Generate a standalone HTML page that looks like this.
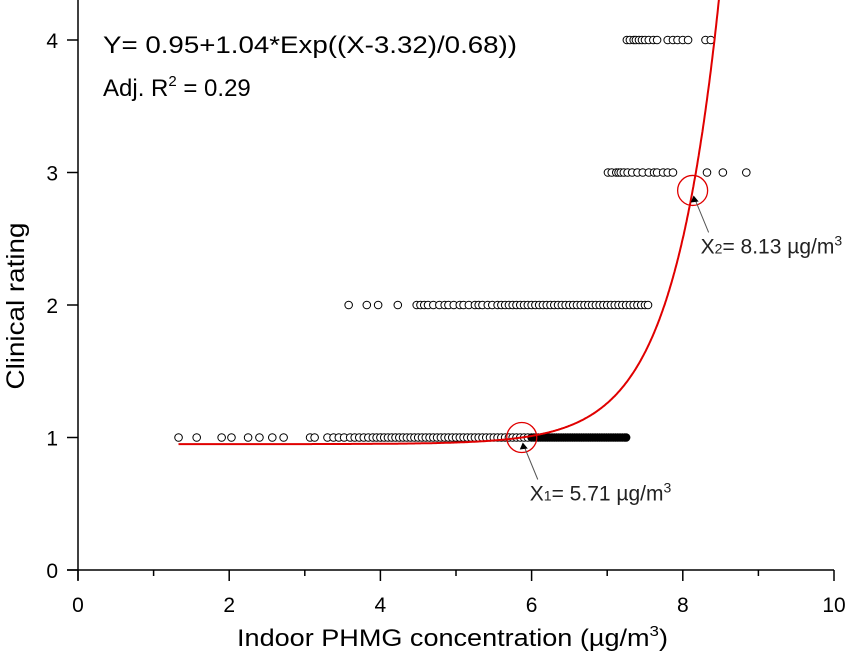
<!DOCTYPE html>
<html><head><meta charset="utf-8">
<style>
html,body{margin:0;padding:0;background:#fff;}
svg{display:block;font-family:"Liberation Sans",sans-serif;}
</style></head>
<body>
<svg id="chart" width="850" height="657" viewBox="0 0 850 657" xmlns="http://www.w3.org/2000/svg">
<g id="marks"></g>
<g id="axes"></g>
<text x="103" y="53" font-size="24" textLength="414" lengthAdjust="spacingAndGlyphs">Y= 0.95+1.04*Exp((X-3.32)/0.68))</text>
<text x="103" y="96" font-size="24">Adj. R<tspan dy="-10" font-size="15">2</tspan><tspan dy="10"> = 0.29</tspan></text>
<text transform="translate(24,306) rotate(-90)" text-anchor="middle" font-size="25" textLength="167" lengthAdjust="spacingAndGlyphs">Clinical rating</text>
<text x="237" y="646" font-size="24" textLength="431" lengthAdjust="spacingAndGlyphs">Indoor PHMG concentration (µg/m<tspan dy="-10" font-size="15">3</tspan><tspan dy="10">)</tspan></text>
</svg>
<script>
const xTicks = [0,2,4,6,8,10];
const yTicks = [0,1,2,3,4];
const rating1 = [1.33,1.57,1.9,2.03,2.25,2.4,2.57,2.72,3.07,3.13,3.3,3.38,3.45,3.52,3.6,3.66,3.72,3.78,3.84,3.9,3.95,4.0,4.05,4.1,4.15,4.2,4.25,4.3,4.35,4.4,4.45,4.5,4.55,4.6,4.65,4.7,4.75,4.8,4.85,4.9,4.95,5.0,5.05,5.1,5.15,5.2,5.25,5.3,5.35,5.4,5.45,5.5,5.55,5.6,5.65,5.7,5.75,5.8,5.85,5.9,5.95,6.0,6.03,6.06,6.09,6.12,6.15,6.18,6.21,6.24,6.27,6.3,6.33,6.36,6.39,6.42,6.45,6.48,6.51,6.54,6.57,6.6,6.63,6.66,6.69,6.72,6.75,6.78,6.81,6.84,6.87,6.9,6.93,6.96,6.99,7.02,7.05,7.08,7.11,7.14,7.17,7.2,7.23,7.25];
const rating2 = [3.58,3.82,3.97,4.23,4.48,4.53,4.58,4.63,4.7,4.78,4.85,4.9,4.97,5.05,5.1,5.17,5.25,5.3,5.35,5.42,5.48,5.55,5.6,5.65,5.7,5.75,5.8,5.85,5.9,5.95,6.0,6.05,6.1,6.15,6.2,6.25,6.3,6.35,6.4,6.45,6.5,6.55,6.6,6.65,6.7,6.75,6.8,6.85,6.9,6.95,7.0,7.05,7.1,7.15,7.2,7.25,7.3,7.35,7.4,7.45,7.5,7.54];
const rating3 = [7.01,7.06,7.12,7.15,7.18,7.22,7.27,7.33,7.4,7.47,7.55,7.62,7.66,7.74,7.8,7.87,8.32,8.53,8.84];
const rating4 = [7.26,7.3,7.35,7.38,7.42,7.46,7.5,7.55,7.61,7.66,7.8,7.87,7.93,8.0,8.07,8.3,8.37];
const fitBase = 0.95, fitAmp = 0.05, fitX0 = 5.87, fitScale = 0.62, fitXStart = 1.33, fitXEnd = 8.7;
const markX = [5.87, 8.13];
const markLabels = ["5.71", "8.13"];

const NS = "http://www.w3.org/2000/svg";
const X0=78, XW=75.6, Y0=570, YH=132.5;
const sx = v => X0 + v*XW;
const sy = v => Y0 - v*YH;
const fit = x => fitBase + fitAmp*Math.exp((x-fitX0)/fitScale);
function mk(tag, attrs, parent){const e=document.createElementNS(NS,tag);for(const k in attrs)e.setAttribute(k,attrs[k]);parent.appendChild(e);return e;}
const gm = document.getElementById('marks'), ga = document.getElementById('axes');

[[rating1,1],[rating2,2],[rating3,3],[rating4,4]].forEach(([arr,r])=>{
  arr.forEach(x=>{
    const c = mk('circle',{cx:sx(x),cy:sy(r),r:3.8,fill:'#fff',stroke:'#000','stroke-width':1},gm);
    
    
  });
});
const band = mk('line',{x1:sx(6.0),y1:sy(1),x2:sx(7.25),y2:sy(1),stroke:'#000','stroke-width':8,'stroke-linecap':'round'},gm);



let d='';
for(let x=fitXStart;x<=fitXEnd;x+=0.01){const y=fit(x);if(y>4.35)break;d+=(d?'L':'M')+sx(x).toFixed(1)+','+sy(y).toFixed(1);}
const curve = mk('path',{d:d,fill:'none',stroke:'#e00000','stroke-width':2},gm);



markX.forEach((mx,i)=>{
  const cx=sx(mx), cy=sy(fit(mx));
  const c = mk('circle',{cx:cx,cy:cy,r:15,fill:'none',stroke:'#e00000','stroke-width':1.3},gm);
  
  
  const ln = mk('line',{x1:cx+16,y1:cy+42,x2:cx+2,y2:cy+8,stroke:'#555','stroke-width':1},gm);
  
  
  const ah = mk('path',{d:`M${cx+1},${cy+5} L${cx-2},${cy+12} L${cx+6},${cy+11} Z`,fill:'#000'},gm);
  
  
  const t = mk('text',{x:cx+8,y:cy+63,'font-size':21,fill:'#222'},gm);
  
  
  t.innerHTML = `X<tspan font-size="14">${i+1}</tspan>= ${markLabels[i]} µg/m<tspan dy="-8" font-size="14">3</tspan>`;
});

const xa = mk('line',{x1:67,y1:Y0,x2:sx(10),y2:Y0,stroke:'#000','stroke-width':1.5},ga);


const ya = mk('line',{x1:X0,y1:0,x2:X0,y2:Y0+10,stroke:'#000','stroke-width':1.5},ga);


xTicks.forEach(v=>{
  const t = mk('line',{x1:sx(v),y1:Y0,x2:sx(v),y2:Y0+11,stroke:'#000','stroke-width':1.5},ga);
  
  
  if(v<10){const m2 = mk('line',{x1:sx(v+1),y1:Y0,x2:sx(v+1),y2:Y0+6,stroke:'#000','stroke-width':1.5},ga);
  
  }
  const l = mk('text',{x:sx(v),y:Y0+42,'text-anchor':'middle','font-size':21},ga);
  
  
  l.textContent = v;
});
yTicks.forEach(v=>{
  const t = mk('line',{x1:X0-11,y1:sy(v),x2:X0,y2:sy(v),stroke:'#000','stroke-width':1.5},ga);
  
  
  const l = mk('text',{x:X0-20,y:sy(v)+8,'text-anchor':'end','font-size':21},ga);
  
  
  l.textContent = v;
});
</script>
</body></html>
